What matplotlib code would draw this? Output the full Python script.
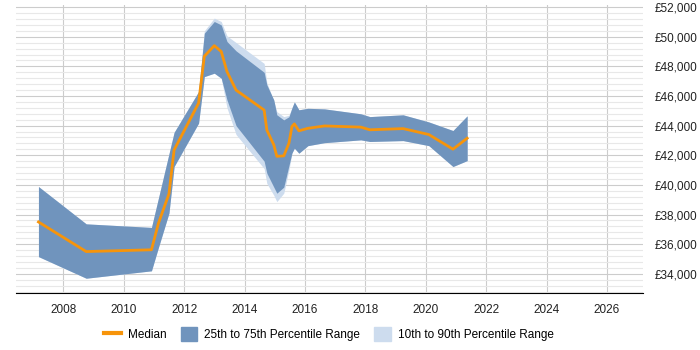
import numpy as np
import matplotlib.pyplot as plt
from matplotlib.ticker import MultipleLocator, FuncFormatter
from matplotlib.patches import Patch
from matplotlib.lines import Line2D

plt.rcParams['font.family'] = ['Liberation Sans', 'DejaVu Sans']

# sample dates (decimal years)
dates = [2007.18, 2008.76, 2010.92, 2011.15, 2011.5, 2011.67, 2012.48, 2012.67,
         2013.0, 2013.23, 2013.42, 2013.72, 2014.65, 2014.74, 2014.97, 2015.07,
         2015.3, 2015.47, 2015.57, 2015.65, 2015.8, 2016.1, 2016.65, 2017.85,
         2018.15, 2019.25, 2020.1, 2020.9, 2021.37]

median = [37500, 35500, 35620, 37400, 39400, 42360, 45520, 48680,
          49400, 49000, 47650, 46400, 45050, 43700, 42700, 41930,
          41960, 42810, 43940, 44120, 43650, 43820, 43980, 43900,
          43720, 43800, 43400, 42410, 43150]

p75 = [39890, 37370, 37130, 39100, 42100, 43550, 46300, 50240,
       51030, 50800, 49680, 49050, 47600, 46750, 45740, 44730,
       44390, 44600, 45200, 45600, 45070, 45170, 45130, 44800,
       44610, 44730, 44250, 43670, 44660]

p25 = [35160, 33700, 34200, 35770, 38100, 41240, 44170, 47310,
       47540, 47200, 45740, 44000, 41600, 40790, 39850, 39440,
       39850, 41300, 42150, 42480, 42140, 42650, 42850, 43040,
       42930, 42990, 42650, 41240, 41640]

p90 = [39890, 37370, 37130, 39100, 42100, 43550, 46300, 50400,
       51260, 51030, 50060, 49610, 48200, 46900, 45650, 44950,
       44610, 44700, 45200, 45600, 45070, 45170, 45130, 44800,
       44610, 44730, 44250, 43670, 44660]

p10 = [35160, 33700, 34200, 35770, 38100, 41240, 44170, 47310,
       47540, 47200, 45200, 43400, 41100, 40100, 39300, 38870,
       39440, 41000, 42150, 42480, 42140, 42650, 42850, 43040,
       42930, 42990, 42650, 41240, 41640]

dark = '#7094bd'
light = '#cddcee'
orange = '#f7940a'

fig = plt.figure(figsize=(7, 3.5), dpi=100)
ax = fig.add_axes([0.023, 0.164, 0.896, 0.822])

ax.fill_between(dates, p10, p90, color=light, lw=0, zorder=2)
ax.fill_between(dates, p25, p75, color=dark, lw=0, zorder=3)
ax.plot(dates, median, color=orange, lw=2, zorder=4)

ax.set_xlim(2006.44, 2027.2)
ax.set_ylim(32730, 52150)

ax.xaxis.set_major_locator(MultipleLocator(2))
ax.yaxis.set_major_locator(MultipleLocator(2000))
ax.yaxis.set_minor_locator(MultipleLocator(400))
ax.yaxis.set_major_formatter(FuncFormatter(lambda v, p: '£{:,.0f}'.format(v)))
ax.yaxis.tick_right()

ax.grid(axis='x', which='major', color='#cccccc', lw=0.8, zorder=0)
ax.grid(axis='y', which='major', color='#cccccc', lw=0.8, zorder=0)
ax.grid(axis='y', which='minor', color='#e8e8e8', lw=0.8, zorder=0)
ax.set_axisbelow(True)

for s in ['top', 'left', 'right']:
    ax.spines[s].set_visible(False)
ax.spines['bottom'].set_color('black')
ax.tick_params(axis='both', which='both', length=0, labelsize=8.5, colors='#222222')
ax.tick_params(axis='x', pad=8)
ax.tick_params(axis='y', pad=8)

handles = [Line2D([0], [0], color=orange, lw=3),
           Patch(color=dark), Patch(color=light)]
labels = ['Median', '25th to 75th Percentile Range', '10th to 90th Percentile Range']
fig.legend(handles, labels, loc='center', bbox_to_anchor=(0.47, 0.045), ncol=3,
           frameon=False, fontsize=8.5, handlelength=1.4, handleheight=1.4,
           columnspacing=1.2, handletextpad=0.6)

fig.savefig('out.png', dpi=100)
